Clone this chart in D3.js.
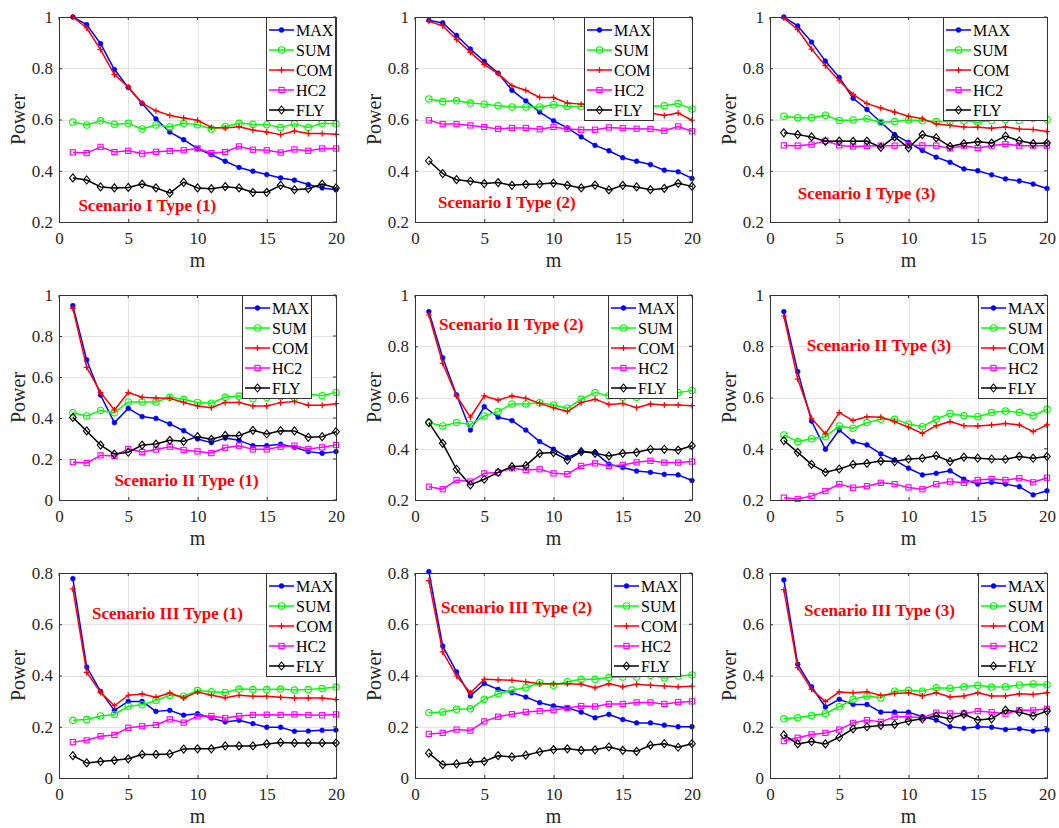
<!DOCTYPE html>
<html><head><meta charset="utf-8">
<script src="https://cdn.jsdelivr.net/npm/d3@7"></script>
<style>body{margin:0;background:#fff}</style>
</head><body><svg id="c" width="1059" height="828"></svg>
<script>
const m = [1,2,3,4,5,6,7,8,9,10,11,12,13,14,15,16,17,18,19,20];
const xTicks = [0,5,10,15,20];
const seriesNames = ["MAX","SUM","COM","HC2","FLY"];
const panelTitles = ["Scenario I Type (1)","Scenario I Type (2)","Scenario I Type (3)",
  "Scenario II Type (1)","Scenario II Type (2)","Scenario II Type (3)",
  "Scenario III Type (1)","Scenario III Type (2)","Scenario III Type (3)"];
const yDomains = [[0.2,1],[0.2,1],[0.2,1],[0,1],[0.2,1],[0.2,1],[0,0.8],[0,0.8],[0,0.8]];
const yTicks = [[0.2,0.4,0.6,0.8,1],[0.2,0.4,0.6,0.8,1],[0.2,0.4,0.6,0.8,1],
  [0,0.2,0.4,0.6,0.8,1],[0.2,0.4,0.6,0.8,1],[0.2,0.4,0.6,0.8,1],
  [0,0.2,0.4,0.6,0.8],[0,0.2,0.4,0.6,0.8],[0,0.2,0.4,0.6,0.8]];

const MAX = [
 [1.0,0.97,0.896,0.795,0.725,0.662,0.602,0.551,0.521,0.486,0.463,0.437,0.413,0.398,0.385,0.372,0.363,0.346,0.333,0.326],
 [0.987,0.977,0.928,0.875,0.827,0.781,0.714,0.673,0.629,0.595,0.567,0.532,0.499,0.478,0.451,0.437,0.424,0.402,0.396,0.370],
 [1.0,0.965,0.902,0.828,0.764,0.683,0.639,0.589,0.541,0.511,0.479,0.453,0.433,0.407,0.400,0.384,0.368,0.360,0.348,0.331],
 [0.948,0.683,0.512,0.377,0.447,0.407,0.398,0.371,0.338,0.298,0.280,0.302,0.291,0.265,0.265,0.272,0.257,0.236,0.228,0.236],
 [0.935,0.755,0.610,0.473,0.564,0.523,0.510,0.473,0.428,0.398,0.366,0.389,0.385,0.340,0.327,0.313,0.308,0.300,0.298,0.276],
 [0.935,0.701,0.508,0.398,0.473,0.428,0.415,0.380,0.356,0.324,0.298,0.304,0.314,0.281,0.262,0.269,0.262,0.252,0.220,0.236],
 [0.778,0.433,0.338,0.264,0.299,0.299,0.260,0.264,0.245,0.251,0.234,0.219,0.225,0.212,0.198,0.198,0.182,0.183,0.186,0.187],
 [0.805,0.515,0.414,0.320,0.369,0.346,0.333,0.316,0.294,0.281,0.274,0.257,0.235,0.248,0.228,0.215,0.215,0.206,0.200,0.200],
 [0.773,0.444,0.356,0.277,0.307,0.287,0.287,0.257,0.257,0.257,0.239,0.226,0.200,0.194,0.200,0.198,0.189,0.192,0.183,0.188]
];
const SUM = [
 [0.590,0.579,0.595,0.581,0.585,0.563,0.579,0.571,0.585,0.580,0.563,0.573,0.585,0.581,0.580,0.569,0.583,0.569,0.585,0.583],
 [0.680,0.670,0.673,0.664,0.660,0.654,0.649,0.649,0.649,0.658,0.651,0.651,0.652,0.648,0.655,0.650,0.652,0.654,0.662,0.641],
 [0.613,0.607,0.607,0.617,0.596,0.598,0.603,0.589,0.592,0.598,0.595,0.592,0.592,0.595,0.589,0.596,0.600,0.596,0.605,0.601],
 [0.426,0.410,0.437,0.426,0.478,0.478,0.478,0.501,0.491,0.476,0.472,0.501,0.507,0.494,0.501,0.504,0.500,0.517,0.509,0.525],
 [0.502,0.489,0.502,0.495,0.528,0.545,0.575,0.575,0.580,0.571,0.558,0.594,0.619,0.607,0.601,0.601,0.615,0.617,0.619,0.627],
 [0.454,0.428,0.439,0.447,0.489,0.480,0.502,0.515,0.515,0.497,0.486,0.515,0.538,0.529,0.525,0.541,0.547,0.542,0.529,0.554],
 [0.225,0.228,0.242,0.248,0.280,0.286,0.302,0.323,0.319,0.341,0.337,0.334,0.347,0.345,0.345,0.347,0.343,0.345,0.349,0.355],
 [0.255,0.258,0.268,0.270,0.307,0.329,0.343,0.352,0.372,0.362,0.376,0.385,0.385,0.392,0.394,0.394,0.401,0.390,0.398,0.402],
 [0.231,0.235,0.244,0.252,0.278,0.307,0.320,0.313,0.339,0.342,0.339,0.352,0.350,0.356,0.362,0.355,0.356,0.363,0.367,0.364]
];
const COM = [
 [1.0,0.957,0.873,0.775,0.727,0.664,0.634,0.616,0.606,0.597,0.569,0.567,0.572,0.559,0.551,0.541,0.555,0.545,0.545,0.542],
 [0.983,0.966,0.912,0.862,0.814,0.779,0.732,0.714,0.686,0.686,0.664,0.660,0.655,0.645,0.640,0.635,0.625,0.616,0.625,0.597],
 [0.996,0.951,0.875,0.810,0.751,0.698,0.662,0.645,0.629,0.613,0.603,0.583,0.577,0.571,0.570,0.566,0.571,0.563,0.561,0.553],
 [0.935,0.647,0.525,0.439,0.524,0.501,0.498,0.496,0.476,0.459,0.450,0.476,0.476,0.459,0.459,0.475,0.481,0.462,0.462,0.470],
 [0.922,0.733,0.606,0.523,0.606,0.590,0.606,0.597,0.577,0.560,0.545,0.580,0.593,0.573,0.577,0.560,0.575,0.571,0.571,0.568],
 [0.918,0.672,0.519,0.458,0.541,0.510,0.525,0.523,0.506,0.484,0.460,0.490,0.506,0.490,0.489,0.493,0.499,0.493,0.467,0.493],
 [0.738,0.412,0.334,0.282,0.323,0.328,0.315,0.332,0.312,0.336,0.323,0.313,0.323,0.319,0.319,0.315,0.312,0.312,0.312,0.306],
 [0.770,0.492,0.398,0.333,0.385,0.383,0.381,0.376,0.368,0.368,0.368,0.366,0.352,0.368,0.356,0.366,0.362,0.359,0.356,0.358],
 [0.735,0.431,0.346,0.298,0.336,0.333,0.337,0.322,0.330,0.333,0.320,0.333,0.316,0.320,0.333,0.320,0.320,0.329,0.326,0.333]
];
const HC2 = [
 [0.472,0.469,0.493,0.473,0.478,0.467,0.474,0.477,0.480,0.487,0.469,0.473,0.495,0.482,0.480,0.471,0.483,0.478,0.487,0.487],
 [0.597,0.582,0.582,0.577,0.571,0.563,0.567,0.567,0.562,0.571,0.563,0.560,0.560,0.569,0.566,0.564,0.563,0.556,0.573,0.554],
 [0.499,0.498,0.502,0.517,0.499,0.495,0.497,0.498,0.498,0.500,0.499,0.498,0.487,0.498,0.489,0.498,0.504,0.498,0.498,0.498],
 [0.185,0.180,0.218,0.215,0.249,0.234,0.246,0.260,0.244,0.237,0.229,0.255,0.265,0.247,0.247,0.260,0.265,0.249,0.257,0.268],
 [0.252,0.242,0.278,0.272,0.304,0.307,0.324,0.317,0.320,0.304,0.301,0.333,0.343,0.333,0.337,0.347,0.353,0.346,0.346,0.350],
 [0.209,0.204,0.216,0.235,0.262,0.248,0.254,0.267,0.262,0.249,0.242,0.262,0.272,0.267,0.278,0.282,0.278,0.285,0.269,0.287],
 [0.140,0.147,0.163,0.168,0.196,0.202,0.207,0.229,0.216,0.241,0.242,0.234,0.242,0.246,0.247,0.246,0.248,0.246,0.245,0.248],
 [0.172,0.176,0.189,0.185,0.221,0.239,0.249,0.258,0.261,0.265,0.273,0.281,0.279,0.289,0.289,0.295,0.295,0.289,0.296,0.299],
 [0.144,0.157,0.170,0.176,0.189,0.215,0.226,0.219,0.239,0.239,0.235,0.255,0.252,0.252,0.261,0.257,0.251,0.265,0.264,0.270]
];
const FLY = [
 [0.372,0.364,0.337,0.333,0.335,0.348,0.333,0.313,0.355,0.333,0.330,0.338,0.333,0.316,0.316,0.343,0.326,0.330,0.348,0.333],
 [0.439,0.389,0.365,0.359,0.350,0.354,0.343,0.347,0.348,0.352,0.343,0.333,0.344,0.325,0.343,0.337,0.326,0.331,0.351,0.339],
 [0.548,0.541,0.532,0.515,0.516,0.515,0.516,0.491,0.532,0.489,0.541,0.528,0.495,0.506,0.513,0.508,0.535,0.517,0.506,0.508],
 [0.403,0.337,0.268,0.224,0.233,0.268,0.273,0.291,0.286,0.309,0.296,0.315,0.314,0.340,0.322,0.338,0.337,0.306,0.309,0.333],
 [0.502,0.421,0.320,0.259,0.281,0.308,0.330,0.334,0.382,0.385,0.356,0.389,0.382,0.372,0.382,0.386,0.398,0.398,0.395,0.412],
 [0.432,0.386,0.339,0.308,0.321,0.339,0.343,0.352,0.350,0.360,0.363,0.373,0.350,0.367,0.363,0.360,0.359,0.370,0.363,0.370],
 [0.087,0.059,0.064,0.069,0.075,0.092,0.092,0.094,0.113,0.114,0.114,0.125,0.125,0.125,0.133,0.139,0.137,0.137,0.137,0.137],
 [0.097,0.052,0.055,0.061,0.065,0.087,0.082,0.089,0.102,0.111,0.114,0.108,0.110,0.121,0.108,0.104,0.128,0.134,0.120,0.134],
 [0.168,0.133,0.142,0.133,0.159,0.192,0.200,0.205,0.209,0.222,0.231,0.242,0.231,0.249,0.226,0.231,0.265,0.257,0.242,0.261]
];

// ---- layout / style (not data) ----
const colX = [59, 415, 770], rowY = [17, 295, 573], W = 277, H = 205;
const titlePos = [[1.4,0.26],[1.66,0.27],[2.0,0.305],[4.0,0.088],[1.73,0.879],[2.66,0.797],[2.38,0.636],[1.88,0.66],[2.45,0.648]];
const legendLeft = [207,169,173,183,193,208,207,196,208];
const legendWidth = [69,69,104,69,69,69,69,69,69];
const styles = [
  {data: MAX, color: "#0000ff", marker: "dot"},
  {data: SUM, color: "#00ff00", marker: "circle"},
  {data: COM, color: "#ff0000", marker: "plus"},
  {data: HC2, color: "#ff00ff", marker: "square"},
  {data: FLY, color: "#000000", marker: "diamond"}
];
const FONT = "'Liberation Serif','Times New Roman',serif";
const axisColor = "#333333";

const svg = d3.select("#c");
svg.append("rect").attr("width",1059).attr("height",828).attr("fill","#fff");

function drawMarker(g, type, x, y, color) {
  if (type === "dot") {
    g.append("circle").attr("cx",x).attr("cy",y).attr("r",2.4).attr("fill",color).attr("stroke",color).attr("stroke-width",0.6);
  } else if (type === "circle") {
    g.append("circle").attr("cx",x).attr("cy",y).attr("r",3.2).attr("fill","none").attr("stroke",color).attr("stroke-width",1.1);
  } else if (type === "plus") {
    g.append("path").attr("d",`M${x-3},${y}H${x+3}M${x},${y-3}V${y+3}`).attr("stroke",color).attr("stroke-width",1.2).attr("fill","none");
  } else if (type === "square") {
    g.append("rect").attr("x",x-2.6).attr("y",y-2.6).attr("width",5.2).attr("height",5.2).attr("fill","none").attr("stroke",color).attr("stroke-width",1.1);
  } else if (type === "diamond") {
    g.append("path").attr("d",`M${x},${y-4}L${x+3.3},${y}L${x},${y+4}L${x-3.3},${y}Z`).attr("fill","none").attr("stroke",color).attr("stroke-width",1.1);
  }
}

for (let p = 0; p < 9; p++) {
  const r = Math.floor(p/3), c = p % 3;
  const g = svg.append("g").attr("transform", `translate(${colX[c]},${rowY[r]})`);
  const x = d3.scaleLinear().domain([0,20]).range([0,W]);
  const y = d3.scaleLinear().domain(yDomains[p]).range([H,0]);

  const grid = g.append("g");
  xTicks.slice(1,-1).forEach(t => grid.append("line").attr("x1",Math.round(x(t))+0.5).attr("x2",Math.round(x(t))+0.5).attr("y1",0).attr("y2",H).attr("stroke","#e3e3e3").attr("stroke-width",1));
  yTicks[p].forEach(t => { if (t!==yDomains[p][0] && t!==yDomains[p][1]) grid.append("line").attr("y1",Math.round(y(t))+0.5).attr("y2",Math.round(y(t))+0.5).attr("x1",0).attr("x2",W).attr("stroke","#e3e3e3").attr("stroke-width",1); });

  const xa = g.append("g").attr("transform",`translate(0,${H})`)
    .call(d3.axisBottom(x).tickValues(xTicks).tickSize(-3).tickPadding(6).tickFormat(d3.format("~g")));
  const ya = g.append("g")
    .call(d3.axisLeft(y).tickValues(yTicks[p]).tickSize(-3).tickPadding(6).tickFormat(d3.format("~g")));
  [xa, ya].forEach(a => {
    a.attr("font-family",FONT);
    a.select(".domain").remove();
    a.selectAll(".tick line").attr("stroke",axisColor);
    a.selectAll(".tick text").attr("font-family",FONT).attr("font-size",17).attr("fill","#262626");
  });
  xa.selectAll(".tick text").attr("dy","0.95em");
  xTicks.forEach(t => g.append("line").attr("x1",x(t)).attr("x2",x(t)).attr("y1",0).attr("y2",3).attr("stroke",axisColor));
  yTicks[p].forEach(t => g.append("line").attr("x1",W).attr("x2",W-3).attr("y1",y(t)).attr("y2",y(t)).attr("stroke",axisColor));

  styles.forEach(s => {
    const vals = s.data[p];
    const line = d3.line().x((d,i) => x(m[i])).y(d => y(d));
    g.append("path").attr("d", line(vals)).attr("fill","none").attr("stroke",s.color).attr("stroke-width",1.5).attr("stroke-linejoin","round");
    const mg = g.append("g");
    vals.forEach((v,i) => drawMarker(mg, s.marker, x(m[i]), y(v), s.color));
  });

  g.append("rect").attr("x",0.5).attr("y",0.5).attr("width",W).attr("height",H).attr("fill","none").attr("stroke",axisColor).attr("stroke-width",1);

  g.append("text").attr("x",x(titlePos[p][0])).attr("y",y(titlePos[p][1]))
    .attr("dominant-baseline","middle").attr("font-family",FONT).attr("font-weight","bold")
    .attr("font-size",17).attr("fill","#ff0000").text(panelTitles[p]);

  g.append("text").attr("x",W/2).attr("y",H+45).attr("text-anchor","middle")
    .attr("font-family",FONT).attr("font-size",20).attr("fill","#262626").text("m");
  g.append("text").attr("transform",`translate(-34,${H/2}) rotate(-90)`).attr("text-anchor","middle")
    .attr("font-family",FONT).attr("font-size",20).attr("fill","#262626").text("Power");

  const lg = g.append("g").attr("transform",`translate(${legendLeft[p]},0)`);
  lg.append("rect").attr("x",0.5).attr("y",0.5).attr("width",legendWidth[p]).attr("height",103).attr("fill","#fff").attr("stroke",axisColor).attr("stroke-width",1);
  styles.forEach((s,i) => {
    const ly = 13 + i*20;
    lg.append("line").attr("x1",3).attr("x2",28).attr("y1",ly).attr("y2",ly).attr("stroke",s.color).attr("stroke-width",1.5);
    drawMarker(lg, s.marker, 15.5, ly, s.color);
    lg.append("text").attr("x",30).attr("y",ly).attr("dominant-baseline","central")
      .attr("font-family",FONT).attr("font-size",16).attr("fill","#000").text(seriesNames[i]);
  });
}
</script></body></html>
